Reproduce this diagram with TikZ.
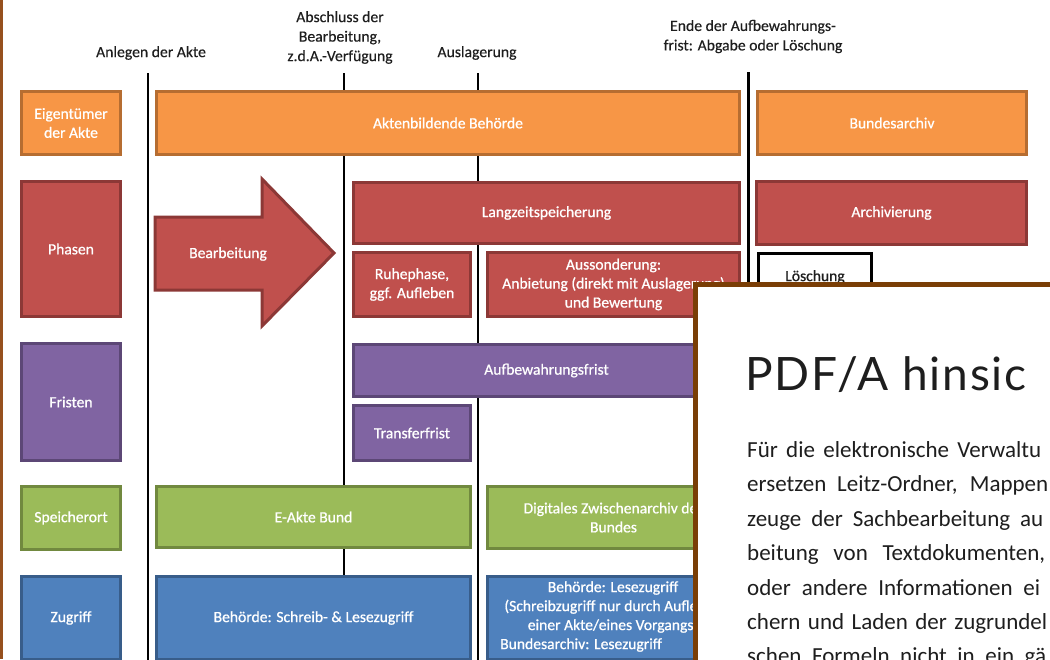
\documentclass[tikz,border=0pt]{standalone}
\usepackage{fontspec}
\setmainfont{Carlito}
\newfontfamily\boxfont[FakeBold=0.8]{Carlito}
\newfontfamily\labelfont[FakeBold=0.3]{Carlito}
\newfontfamily\titlefont[LetterSpace=4]{Lato}
\definecolor{orF}{HTML}{F79646}\definecolor{orD}{HTML}{B66D31}
\definecolor{rdF}{HTML}{C0504D}\definecolor{rdD}{HTML}{8C3836}
\definecolor{puF}{HTML}{8064A2}\definecolor{puD}{HTML}{5C4776}
\definecolor{grF}{HTML}{9BBB59}\definecolor{grD}{HTML}{71893F}
\definecolor{blF}{HTML}{4F81BD}\definecolor{blD}{HTML}{385D8A}
\definecolor{brn}{RGB}{122,62,6}
\definecolor{edge}{RGB}{150,80,30}
\definecolor{ink}{RGB}{30,30,30}
\tikzset{
  basebox/.style={line width=3pt, inner sep=1pt, align=center, text=white,
    font=\boxfont\fontsize{15.6}{19}\selectfont},
  orbox/.style={basebox, fill=orF, draw=orD},
  rdbox/.style={basebox, fill=rdF, draw=rdD},
  pubox/.style={basebox, fill=puF, draw=puD},
  grbox/.style={basebox, fill=grF, draw=grD},
  blbox/.style={basebox, fill=blF, draw=blD},
  whbox/.style={basebox, fill=white, draw=black, text=ink},
  marker/.style={line width=2.5pt, draw=black},
  toplabel/.style={align=center, text=ink, inner sep=0pt,
    font=\labelfont\fontsize{15.7}{19.5}\selectfont},
  boxtext/.style={align=center, text=white, inner sep=0pt,
    font=\boxfont\fontsize{15.6}{19}\selectfont},
  pagetext/.style={anchor=base west, inner sep=0pt, text=ink,
    font=\fontsize{23}{28}\selectfont},
}
\newcommand\mybox[7]{%
  \pgfmathsetmacro\bw{#5-#3-3}\pgfmathsetmacro\bh{#6-#4-3}%
  \pgfmathsetmacro\cx{(#3+#5)/2}\pgfmathsetmacro\cy{(#4+#6)/2}%
  \node[#1, minimum width=\bw pt, minimum height=\bh pt] (#2) at (\cx,\cy) {#7};}
\newcommand\pline[2]{\makebox[#1pt][s]{#2}}
\begin{document}
\begin{tikzpicture}[x=1pt,y=-1pt]
\useasboundingbox (0,0) rectangle (1050,659);
\clip (0,0) rectangle (1050,659);
\fill[white] (0,0) rectangle (1050,659);
\fill[edge] (0,0) rectangle (2.5,659);

% milestone labels
\node[toplabel] (lAnlegen) at (151,53) {Anlegen der Akte};
\node[toplabel] (lAbschluss) at (340,37.5) {Abschluss der\\Bearbeitung,\\z.d.A.-Verfügung};
\node[toplabel] (lAuslag) at (477,53) {Auslagerung};
\node[toplabel] (lEnde) at (753,36.5) {Ende der Aufbewahrungs-\\frist: Abgabe oder Löschung};

% milestone lines
\coordinate (m1t) at (148,73); \coordinate (m1b) at (148,662);
\coordinate (m2t) at (344,73); \coordinate (m2b) at (344,662);
\coordinate (m3t) at (478,73); \coordinate (m3b) at (478,662);
\coordinate (m4t) at (748,72); \coordinate (m4b) at (748,662);
\draw[marker] (m1t) -- (m1b);
\draw[marker] (m2t) -- (m2b);
\draw[marker] (m3t) -- (m3b);
\draw[marker, line width=3pt] (m4t) -- (m4b);

% row 1
\mybox{orbox}{eig}{20}{90}{122}{156}{Eigentümer\\der Akte}
\mybox{orbox}{behoerde}{155}{90}{741}{156}{Aktenbildende Behörde}
\mybox{orbox}{barch}{756}{90}{1028}{156}{Bundesarchiv}

% row 2
\mybox{rdbox}{phasen}{20}{180}{122}{318}{Phasen}
\draw[line width=3pt, fill=rdF, draw=rdD, line join=miter]
  (155,217) -- (262,217) -- (262,179) -- (334,253) -- (262,326) -- (262,290) -- (155,290) -- cycle;
\node[boxtext] (bearb) at (228,254) {Bearbeitung};
\mybox{rdbox}{langzeit}{352}{181}{741}{245}{Langzeitspeicherung}
\mybox{rdbox}{archiv}{755}{180}{1028}{246}{Archivierung}
\mybox{rdbox}{ruhe}{352}{251}{472}{318}{Ruhephase,\\ggf. Aufleben}
\mybox{rdbox}{ausson}{486}{251}{741}{318}{Aussonderung:\\Anbietung (direkt mit Auslagerung)\\und Bewertung}
\mybox{whbox}{loesch}{757}{252}{873}{302}{Löschung}

% row 3
\mybox{pubox}{fristen}{20}{342}{122}{462}{Fristen}
\mybox{pubox}{aufbew}{352}{343}{741}{398}{Aufbewahrungsfrist}
\mybox{pubox}{transfer}{352}{404}{472}{462}{Transferfrist}

% row 4
\mybox{grbox}{speicher}{20}{485}{122}{551}{Speicherort}
\mybox{grbox}{eakte}{155}{485}{472}{549}{E-Akte Bund}
\mybox{grbox}{zwischen}{486}{485}{741}{550}{Digitales Zwischenarchiv des\\Bundes}

% row 5
\mybox{blbox}{zugriff}{20}{575}{122}{661}{Zugriff}
\mybox{blbox}{schreib}{155}{575}{472}{661}{Behörde: Schreib- \& Lesezugriff}
\mybox{blbox}{lese}{486}{575}{741}{661}{}
\node[boxtext] (leseA) at (613,607) {Behörde: Lesezugriff\\(Schreibzugriff nur durch Aufleben\\einer Akte/eines Vorgangs)};
\node[boxtext, anchor=west] (leseB) at (500,645) {Bundesarchiv: Lesezugriff};

% overlaid document page
\draw[brn, line width=5pt, fill=white] (695.5,284.5) rectangle (1070,680);
\node[anchor=base west, inner sep=0pt, text=ink, font=\titlefont\fontsize{46}{50}\selectfont] (title) at (745,390) {PDF/A hinsic};
\node[pagetext] (p1) at (747,457) {\pline{294}{Für die elektronische Verwaltu}};
\node[pagetext] (p2) at (747,491.5) {\pline{301}{ersetzen Leitz-Ordner, Mappen}};
\node[pagetext] (p3) at (747,526) {\pline{296}{zeuge der Sachbearbeitung au}};
\node[pagetext] (p4) at (747,560.5) {\pline{298}{beitung von Textdokumenten,}};
\node[pagetext] (p5) at (747,595) {\pline{293}{oder andere Informationen ei}};
\node[pagetext] (p6) at (747,629.5) {\pline{300}{chern und Laden der zugrundel}};
\node[pagetext] (p7) at (747,663) {\pline{299}{schen Formeln nicht in ein gä}};
\end{tikzpicture}
\end{document}
